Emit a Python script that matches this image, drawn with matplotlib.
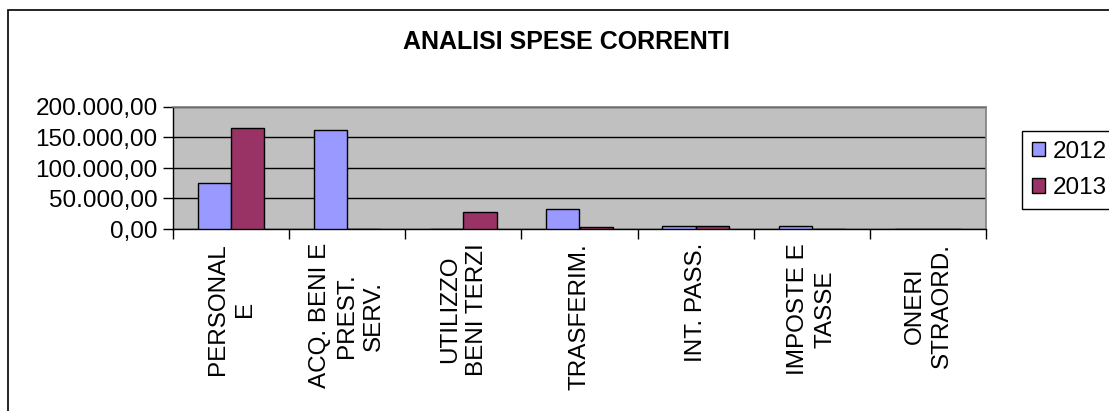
import matplotlib
matplotlib.use("Agg")
import matplotlib.pyplot as plt
import numpy as np
from matplotlib.ticker import FuncFormatter, FixedLocator
from matplotlib.patches import Rectangle

plt.rcParams['font.family'] = ['Liberation Sans', 'DejaVu Sans']

categories = ["PERSONAL\nE", "ACQ. BENI E\nPREST.\nSERV.", "UTILIZZO\nBENI TERZI",
              "TRASFERIM.", "INT. PASS.", "IMPOSTE E\nTASSE", "ONERI\nSTRAORD."]
series_names = ["2012", "2013"]
values_2012 = [75700, 162700, 0, 33000, 4900, 4500, 0]
values_2013 = [164900, 0, 27600, 2500, 4900, 0, 0]
yticks = [0, 50000, 100000, 150000, 200000]
title = "ANALISI SPESE CORRENTI"

W, H = 1109, 411
fig = plt.figure(figsize=(W / 100, H / 100), dpi=100)
fig.patch.set_facecolor("white")

# outer chart border
fig.patches.append(Rectangle((8 / W, -0.1), 1.2, 1 - 10 / H + 0.1, transform=fig.transFigure,
                             fill=False, edgecolor="black", linewidth=1.2))

left, right, top, bottom = 173 / W, 986 / W, 1 - 107 / H, 1 - 229 / H
ax = fig.add_axes([left, bottom, right - left, top - bottom])
ax.set_facecolor("#C0C0C0")

n = len(categories)
x = np.arange(n)
bw = 1 / 3.5
ax.bar(x - bw / 2, values_2012, bw, color="#9999FF", edgecolor="black", linewidth=1, label=series_names[0], zorder=3)
ax.bar(x + bw / 2, values_2013, bw, color="#993366", edgecolor="black", linewidth=1, label=series_names[1], zorder=3)

ax.set_xlim(-0.5, n - 0.5)
ax.set_ylim(0, 200000)
ax.set_yticks(yticks)
ax.yaxis.set_major_formatter(FuncFormatter(
    lambda v, p: f"{v:,.2f}".replace(",", "X").replace(".", ",").replace("X", ".")))
ax.yaxis.grid(True, color="black", linewidth=1, zorder=1)
ax.set_axisbelow(True)

ax.set_xticks(x)
ax.set_xticklabels(categories, rotation=90, ha="center", va="top", multialignment="center",
                   fontsize=17.5, linespacing=1.3)
ax.xaxis.set_minor_locator(FixedLocator(np.arange(-0.5, n, 1.0)))
ax.tick_params(axis="x", which="major", length=0, pad=10)
ax.tick_params(axis="x", which="minor", length=7, width=1, color="black", direction="out")
ax.tick_params(axis="y", which="major", length=7, width=1, direction="out", labelsize=17.5, pad=4)

for s in ["top", "right"]:
    ax.spines[s].set_color("#808080")
    ax.spines[s].set_linewidth(1.2)
for s in ["left", "bottom"]:
    ax.spines[s].set_color("black")
    ax.spines[s].set_linewidth(1)

fig.text(566 / W, 1 - 42 / H, title, ha="center", va="center", fontsize=18, fontweight="bold")

leg = fig.legend(loc="upper left", bbox_to_anchor=(1022 / W, 1 - 131 / H), fontsize=17.5,
                 frameon=True, fancybox=False, edgecolor="black", framealpha=1,
                 handlelength=0.55, handleheight=0.55, handletextpad=0.3,
                 borderpad=0.4, labelspacing=0.6, borderaxespad=0)
leg.get_frame().set_linewidth(1)

fig.savefig("out.png", dpi=100, facecolor="white")
